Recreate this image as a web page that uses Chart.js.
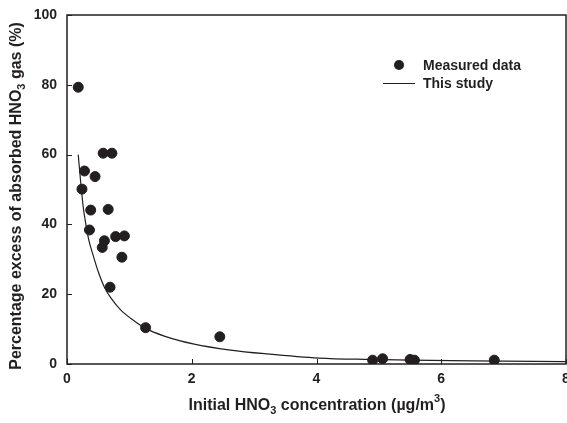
<!DOCTYPE html>
<html>
<head>
<meta charset="utf-8">
<script src="https://cdn.jsdelivr.net/npm/chart.js@4"></script>
<style>
  html, body { margin: 0; padding: 0; background: #fff; }
  #wrap { width: 567px; height: 423px; }
</style>
</head>
<body>
<div id="wrap"><canvas id="chart" width="567" height="423"></canvas></div>
<script>
// measured points (x = initial HNO3 ug/m3, y = % excess)
const measuredX = [0.18, 0.58, 0.72, 0.28, 0.45, 0.24, 0.38, 0.66, 0.36, 0.78, 0.92, 0.60, 0.565, 0.88, 0.69, 1.26, 2.45, 4.90, 5.06, 5.50, 5.57, 6.85];
const measuredY = [79.3, 60.4, 60.4, 55.3, 53.7, 50.1, 44.1, 44.3, 38.4, 36.5, 36.7, 35.3, 33.4, 30.6, 22.0, 10.4, 7.8, 1.1, 1.5, 1.3, 1.1, 1.1];

// fitted curve
const studyX = [0.18, 0.22, 0.26, 0.30, 0.35, 0.41, 0.50, 0.60, 0.70, 0.86, 1.02, 1.26, 1.56, 2.04, 2.62, 3.2, 4.04, 4.86, 5.5, 6.5, 8.0];
const studyY = [60, 52, 45, 40.3, 35.5, 31.7, 26.5, 22.0, 19.0, 15.5, 13.1, 10.2, 8.0, 5.7, 4.0, 2.9, 1.7, 1.3, 1.1, 0.9, 0.7];

const xTicks = [0, 2, 4, 6, 8];
const yTicks = [0, 20, 40, 60, 80, 100];

const ink = '#231f20';
const family = '"Liberation Sans", Arial, sans-serif';
const font = 'bold 14px ' + family;
const titleFont = 'bold 16px ' + family;
const subFont = 'bold 11px ' + family;

// text with sub / sup pieces, centred on x
function richText(ctx, parts, x, y) {
  let w = 0;
  parts.forEach(p => { ctx.font = p[1] ? subFont : titleFont; w += ctx.measureText(p[0]).width; });
  let cx = x - w / 2;
  parts.forEach(p => {
    ctx.font = p[1] ? subFont : titleFont;
    const dy = p[1] === 'sub' ? 5 : p[1] === 'sup' ? -7 : 0;
    ctx.fillText(p[0], cx, y + dy);
    cx += ctx.measureText(p[0]).width;
  });
}

const decor = {
  id: 'decor',
  afterDraw(chart) {
    const { ctx, chartArea: a, scales } = chart;
    ctx.save();
    ctx.strokeStyle = ink;
    ctx.lineWidth = 1.5;
    ctx.strokeRect(a.left, a.top, a.right - a.left, a.bottom - a.top);
    ctx.lineWidth = 1;
    ctx.beginPath();
    xTicks.forEach(v => {
      const px = Math.round(scales.x.getPixelForValue(v)) + 0.5;
      ctx.moveTo(px, a.bottom); ctx.lineTo(px, a.bottom - 5);
    });
    yTicks.forEach(v => {
      const py = Math.round(scales.y.getPixelForValue(v)) + 0.5;
      ctx.moveTo(a.left, py); ctx.lineTo(a.left + 5, py);
    });
    ctx.stroke();

    ctx.fillStyle = ink;
    ctx.textBaseline = 'middle';
    ctx.textAlign = 'left';
    // x title
    richText(ctx, [['Initial HNO'], ['3', 'sub'], [' concentration (\u00b5g/m'], ['3', 'sup'], [')']], 317, 406);
    // y title
    ctx.save();
    ctx.translate(17, 196);
    ctx.rotate(-Math.PI / 2);
    richText(ctx, [['Percentage excess of absorbed HNO'], ['3', 'sub'], [' gas (%)']], 0, 0);
    ctx.restore();

    // legend
    const ds = chart.data.datasets;
    ctx.font = font;
    ctx.beginPath();
    ctx.arc(399, 65, 5, 0, Math.PI * 2);
    ctx.fill();
    ctx.fillText(ds[0].label, 423, 66);
    ctx.beginPath();
    ctx.moveTo(383, 83.5); ctx.lineTo(415, 83.5);
    ctx.stroke();
    ctx.fillText(ds[1].label, 423, 84);
    ctx.restore();
  }
};

new Chart(document.getElementById('chart'), {
  type: 'scatter',
  data: {
    datasets: [
      {
        label: 'Measured data',
        data: measuredX.map((x, i) => ({ x, y: measuredY[i] })),
        backgroundColor: ink,
        borderColor: ink,
        pointRadius: 5,
        pointHoverRadius: 5
      },
      {
        label: 'This study',
        data: studyX.map((x, i) => ({ x, y: studyY[i] })),
        showLine: true,
        borderColor: ink,
        borderWidth: 1.2,
        pointRadius: 0,
        cubicInterpolationMode: 'monotone'
      }
    ]
  },
  options: {
    responsive: false,
    animation: false,
    // no auto padding: the last x label runs off the edge like the original
    layout: { autoPadding: false, padding: { top: 15, right: 1, left: 0, bottom: 0 } },
    plugins: { legend: { display: false }, tooltip: { enabled: false } },
    scales: {
      x: {
        type: 'linear', min: 0, max: 8,
        afterBuildTicks: s => { s.ticks = xTicks.map(v => ({ value: v })); },
        afterFit: s => { s.height = 59; s.paddingLeft = 0; s.paddingRight = 0; },
        grid: { display: false, drawTicks: false },
        border: { display: false },
        ticks: { color: ink, font: { family, size: 14, weight: 'bold' }, padding: 7, maxRotation: 0 }
      },
      y: {
        type: 'linear', min: 0, max: 100,
        afterBuildTicks: s => { s.ticks = yTicks.map(v => ({ value: v })); },
        afterFit: s => { s.width = 67; s.paddingTop = 0; s.paddingBottom = 0; },
        grid: { display: false, drawTicks: false },
        border: { display: false },
        ticks: { color: ink, font: { family, size: 14, weight: 'bold' }, padding: 10 }
      }
    }
  },
  plugins: [decor]
});
</script>
</body>
</html>
